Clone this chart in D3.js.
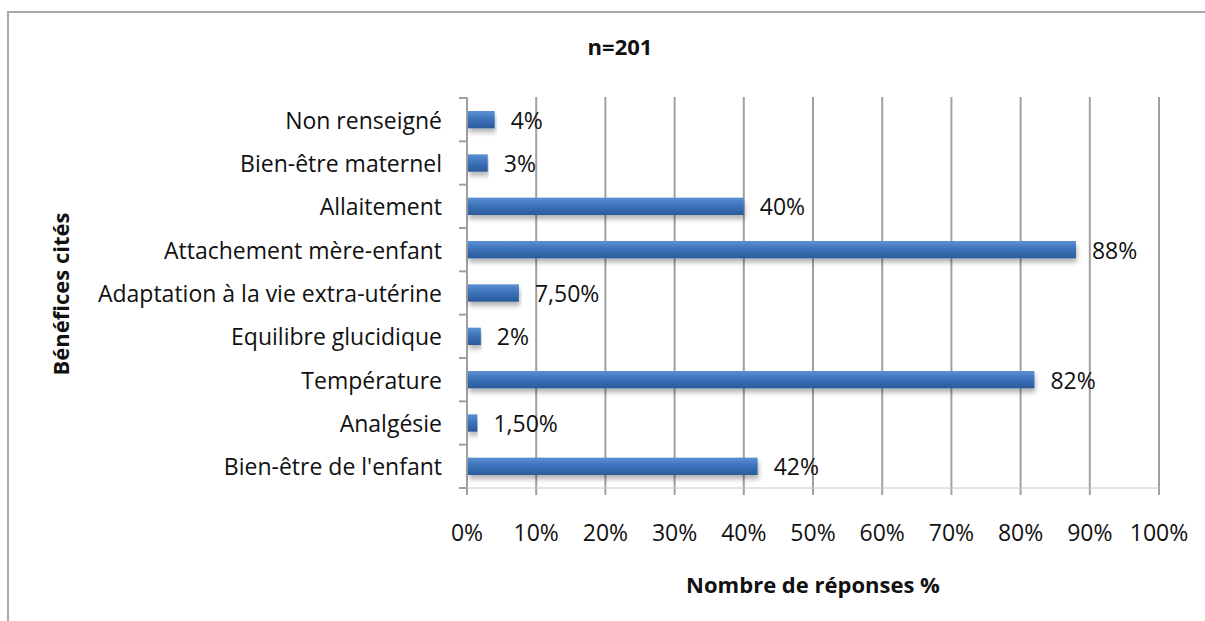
<!DOCTYPE html>
<html>
<head>
<meta charset="utf-8">
<script src="https://cdn.jsdelivr.net/npm/d3@7"></script>
<style>
  body { margin: 0; background: #fff; overflow: hidden; }
  text { font-family: "Open Sans", "DejaVu Sans", sans-serif; fill: #111; }
</style>
</head>
<body>
<svg width="1205" height="621"></svg>
<script>
var categories = ["Non renseigné", "Bien-être maternel", "Allaitement", "Attachement mère-enfant",
                  "Adaptation à la vie extra-utérine", "Equilibre glucidique", "Température",
                  "Analgésie", "Bien-être de l'enfant"];
var values = [4, 3, 40, 88, 7.5, 2, 82, 1.5, 42];
var valueLabels = ["4%", "3%", "40%", "88%", "7,50%", "2%", "82%", "1,50%", "42%"];
var xTicks = [0, 10, 20, 30, 40, 50, 60, 70, 80, 90, 100];

var svg = d3.select("svg");

var x = d3.scaleLinear().domain([0, 100]).range([467, 1159]);
var y = d3.scaleBand().domain(categories).range([98, 488])
    .paddingInner(0.6).paddingOuter(0.3);

// outer frame: only top and left edges are visible
svg.append("path")
    .attr("d", "M8,621 L8,12 L1205,12")
    .attr("fill", "none").attr("stroke", "#a8a8a8").attr("stroke-width", 2);

var defs = svg.append("defs");
var grad = defs.append("linearGradient").attr("id", "barGrad")
    .attr("x1", 0).attr("y1", 0).attr("x2", 0).attr("y2", 1);
grad.append("stop").attr("offset", "0%").attr("stop-color", "#5c90d4");
grad.append("stop").attr("offset", "45%").attr("stop-color", "#3d73bd");
grad.append("stop").attr("offset", "100%").attr("stop-color", "#2b5a99");

var shadow = defs.append("filter").attr("id", "shadow")
    .attr("x", "-5%").attr("y", "-50%").attr("width", "110%").attr("height", "250%");
shadow.append("feDropShadow").attr("dx", 1).attr("dy", 4)
    .attr("stdDeviation", 2.5).attr("flood-color", "#000").attr("flood-opacity", 0.3);

// vertical gridlines + bottom ticks
svg.append("g").selectAll("line")
    .data(xTicks)
    .enter().append("line")
      .attr("x1", function(d) { return x(d); })
      .attr("x2", function(d) { return x(d); })
      .attr("y1", 97)
      .attr("y2", 495)
      .attr("stroke", "#a0a0a0")
      .attr("stroke-width", 2);

// bottom axis line
svg.append("line")
    .attr("x1", x(0)).attr("x2", x(100))
    .attr("y1", 488).attr("y2", 488)
    .attr("stroke", "#c8c8c8").attr("stroke-width", 1);

// left ticks between categories
var yEdges = d3.range(categories.length + 1).map(function(i) { return 98 + i * y.step(); });
svg.append("g").selectAll("line")
    .data(yEdges)
    .enter().append("line")
      .attr("x1", 459).attr("x2", x(0))
      .attr("y1", function(d) { return d; })
      .attr("y2", function(d) { return d; })
      .attr("stroke", "#a0a0a0")
      .attr("stroke-width", 2);

// bars
svg.append("g").selectAll("rect")
    .data(categories)
    .enter().append("rect")
      .attr("x", x(0) + 1)
      .attr("y", function(d) { return y(d); })
      .attr("width", function(d, i) { return x(values[i]) - x(0) - 1; })
      .attr("height", y.bandwidth())
      .attr("fill", "url(#barGrad)")
      .attr("filter", "url(#shadow)");

// value labels
svg.append("g").selectAll("text")
    .data(categories)
    .enter().append("text")
      .attr("x", function(d, i) { return x(values[i]) + 16; })
      .attr("y", function(d) { return y(d) + y.bandwidth() / 2 + 9; })
      .style("font-size", "23px")
      .text(function(d, i) { return valueLabels[i]; });

// category labels
svg.append("g").selectAll("text")
    .data(categories)
    .enter().append("text")
      .attr("x", 442)
      .attr("y", function(d) { return y(d) + y.bandwidth() / 2 + 9; })
      .attr("text-anchor", "end")
      .style("font-size", "23px")
      .text(function(d) { return d; });

// x tick labels
svg.append("g").selectAll("text")
    .data(xTicks)
    .enter().append("text")
      .attr("x", function(d) { return x(d); })
      .attr("y", 541)
      .attr("text-anchor", "middle")
      .style("font-size", "23px")
      .text(function(d) { return d + "%"; });

// titles
svg.append("text")
    .attr("x", 620).attr("y", 55)
    .attr("text-anchor", "middle")
    .style("font-size", "22px").style("font-weight", "bold")
    .text("n=201");

svg.append("text")
    .attr("x", 813).attr("y", 593)
    .attr("text-anchor", "middle")
    .style("font-size", "22px").style("font-weight", "bold")
    .text("Nombre de réponses %");

svg.append("text")
    .attr("transform", "translate(69,294) rotate(-90)")
    .attr("text-anchor", "middle")
    .style("font-size", "22px").style("font-weight", "bold")
    .text("Bénéfices cités");
</script>
</body>
</html>
